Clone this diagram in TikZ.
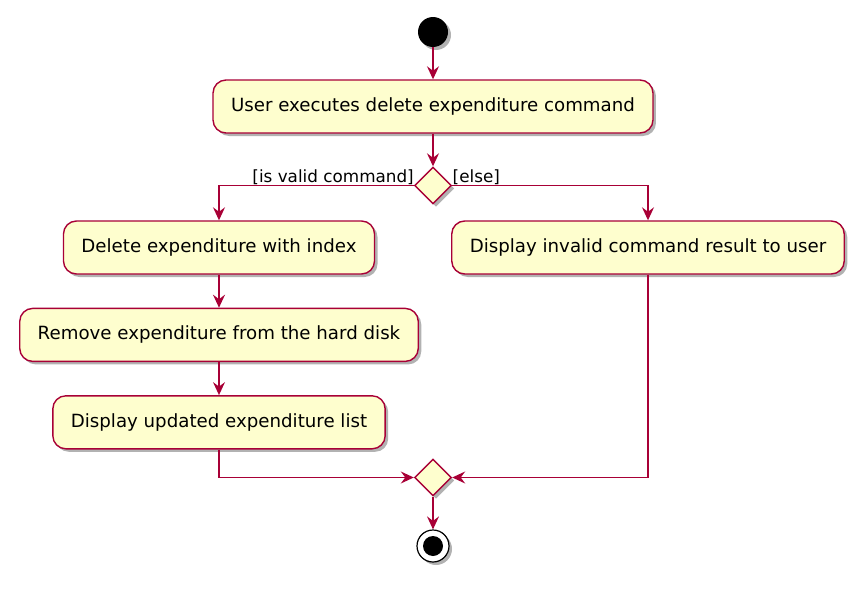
\documentclass[tikz,border=0pt]{standalone}
\usepackage{fontspec}
\setmainfont{DejaVu Sans}
\usetikzlibrary{
  arrows.meta, positioning, shapes.geometric, shadows
}
\definecolor{actfill}{HTML}{FEFECE}
\definecolor{actborder}{HTML}{A80036}
\definecolor{textdark}{HTML}{000000}
\tikzset{
  % Shadow under every shape
  softshadow/.style={
    drop shadow={shadow xshift=3pt, shadow yshift=-3pt,
                 opacity=0.3, fill=black},
  },
  % Activity boxes
  action/.style={
    draw=actborder, fill=actfill, rounded corners=13pt,
    minimum height=53pt, inner xsep=18pt,
    font=\fontsize{18.2}{21}\selectfont, text=textdark,
    line width=1.4pt, softshadow,
  },
  % Decision and merge points
  branchpt/.style={
    diamond, draw=actborder, fill=actfill,
    minimum width=37pt, minimum height=37pt, inner sep=0pt,
    line width=1.4pt, softshadow,
  },
  % Start and stop
  startpt/.style={
    circle, fill=black, minimum size=30pt, inner sep=0pt, softshadow,
  },
  endpt/.style={
    circle, draw=black, fill=white, minimum size=32pt, inner sep=0pt,
    line width=1.2pt, softshadow,
    path picture={\fill[black] (path picture bounding box.center) circle (10pt);},
  },
  % Arrows
  flow/.style={-{Stealth[length=13pt, width=12pt, inset=4.5pt]},
               line width=1.4pt, actborder},
  % Guard labels
  guard/.style={font=\fontsize{16.8}{19}\selectfont, text=textdark},
}

\begin{document}
\begin{tikzpicture}[x=1pt, y=1pt, node distance=33pt]
  \useasboundingbox (0,0) rectangle (868,-589);
  \node[startpt] (start) at (433,-32) {};
  \node[action] (exec) at (433,-106.5) {User executes delete expenditure command};
  \node[branchpt] (check) at (433,-185.5) {};
  \node[action] (delidx) at (219,-247.5) {Delete expenditure with index};
  \node[action, below=of delidx] (remove) {Remove expenditure from the hard disk};
  \node[action, below=of remove] (showlist) {Display updated expenditure list};
  \node[action] (invalid) at (648,-247.5) {Display invalid command result to user};
  \node[branchpt] (merge) at (433,-477.5) {};
  \node[endpt] (stop) at (433,-546) {};
  % guards
  \node[guard, anchor=base east] (validlbl) at ([xshift=3.5pt, yshift=3pt]check.west) {[is valid command]};
  \node[guard, anchor=base west] (elselbl) at ([xshift=-3pt, yshift=3pt]check.east) {[else]};
  % flows
  \draw[flow] (start) -- (exec);
  \draw[flow] (exec) -- (check);
  \draw[flow] (check.west) -| (delidx.north);
  \draw[flow] (check.east) -| (invalid.north);
  \draw[flow] (delidx) -- (remove);
  \draw[flow] (remove) -- (showlist);
  \draw[flow] (showlist.south) |- (merge.west);
  \draw[flow] (invalid.south) |- (merge.east);
  \draw[flow] (merge) -- (stop);
\end{tikzpicture}
\end{document}
